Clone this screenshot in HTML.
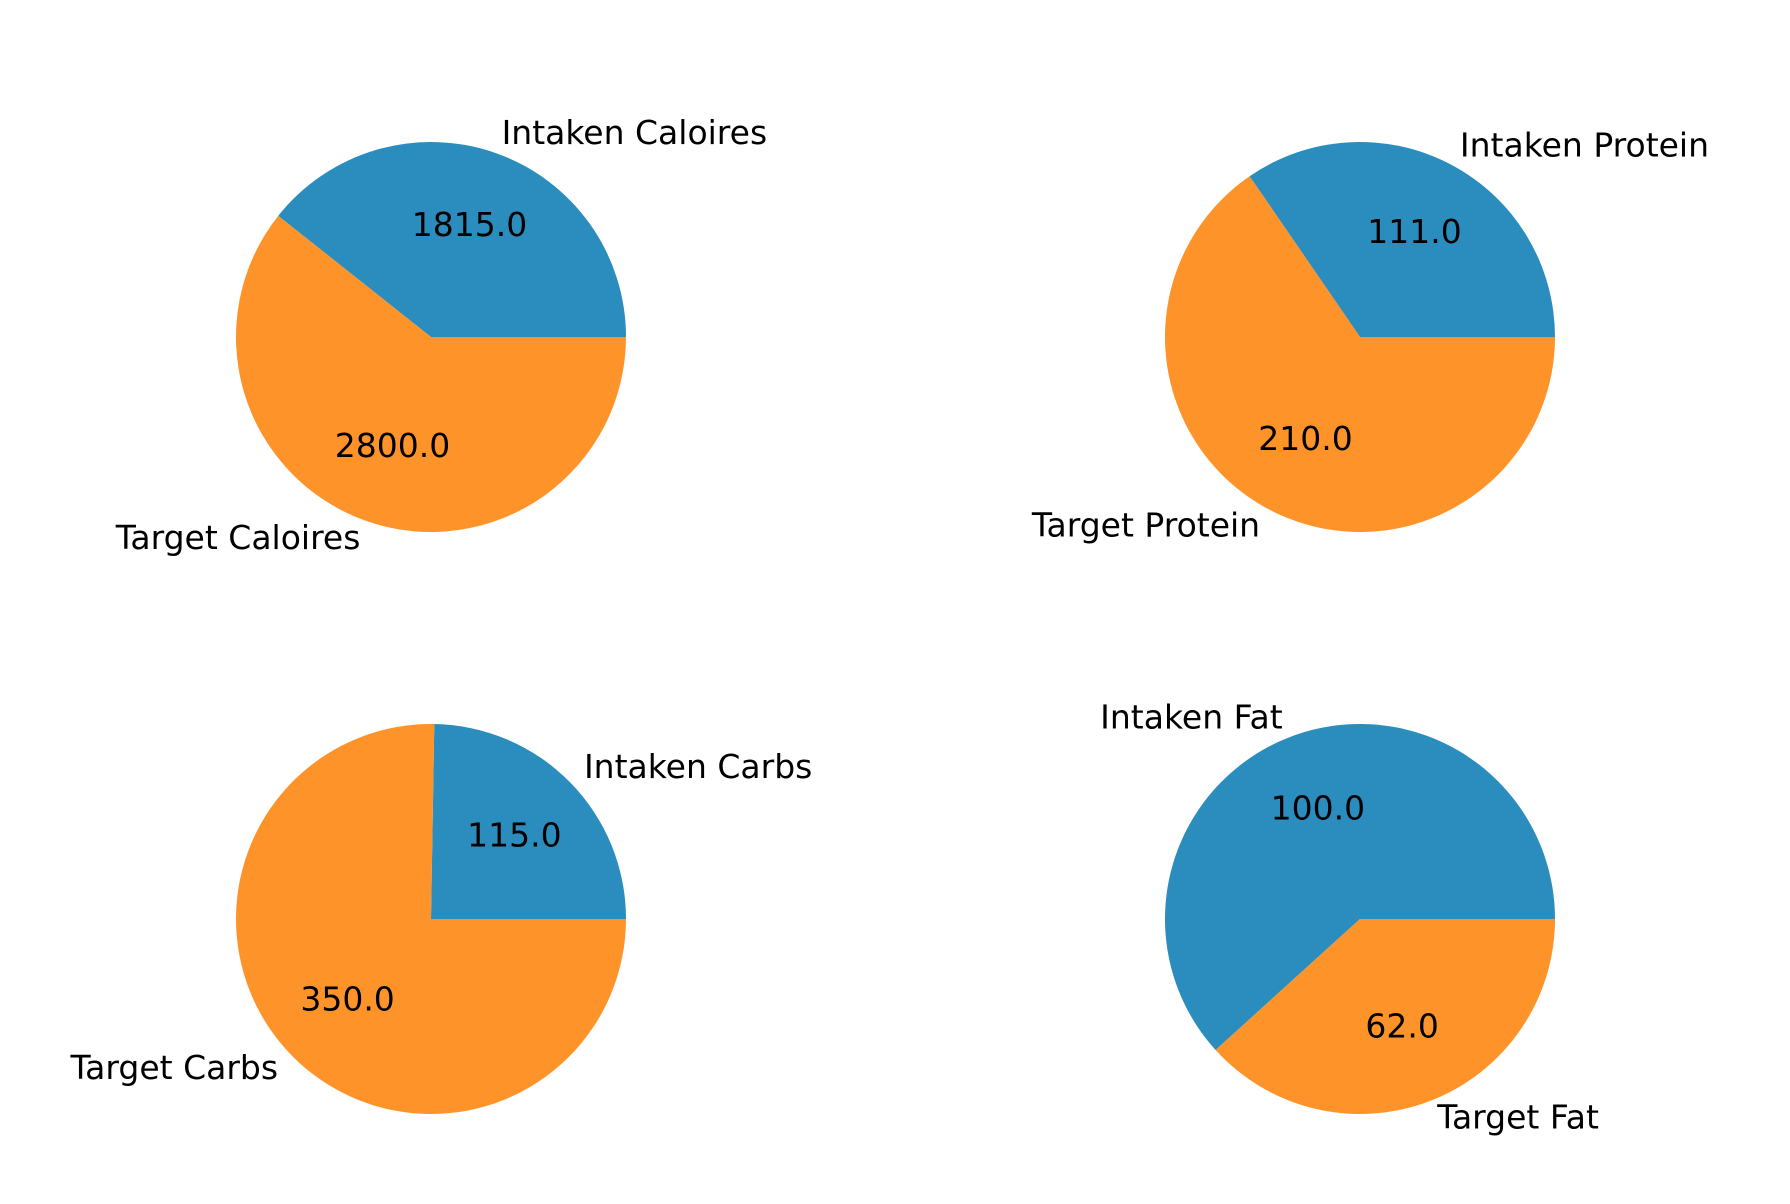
<!DOCTYPE html>
<html><head><meta charset="utf-8"><style>
html,body{margin:0;padding:0;background:#fff;}
svg{display:block;}
text{font-family:"DejaVu Sans","Liberation Sans",sans-serif;font-size:33px;fill:#000;}
</style></head><body>
<svg id="chart" width="1790" height="1204" viewBox="0 0 1790 1204" xmlns="http://www.w3.org/2000/svg"></svg>
<script>
const chartTitles = ["calories","protein","carbs","fat"];
const sliceLabels = [
  ["Intaken Caloires","Target Caloires"],
  ["Intaken Protein","Target Protein"],
  ["Intaken Carbs","Target Carbs"],
  ["Intaken Fat","Target Fat"]
];
const intakenValues = [1815.0, 111.0, 115.0, 100.0];
const targetValues = [2800.0, 210.0, 350.0, 62.0];

const colors = ["#2b8cbe","#fe9429"];
const centers = [[431,337],[1360,337],[431,919],[1360,919]];
const R = 195;
const svg = document.getElementById('chart');
const NS = "http://www.w3.org/2000/svg";

function pt(cx, cy, r, a){ return [cx + r*Math.cos(a), cy - r*Math.sin(a)]; }

for (let i = 0; i < chartTitles.length; i++) {
  const vals = [intakenValues[i], targetValues[i]];
  const total = vals[0] + vals[1];
  const [cx, cy] = centers[i];
  const g = document.createElementNS(NS, 'g');
  
  
  svg.appendChild(g);
  let start = 0;
  for (let j = 0; j < 2; j++) {
    const sweep = vals[j] / total * 2 * Math.PI;
    const end = start + sweep;
    const p0 = pt(cx, cy, R, start), p1 = pt(cx, cy, R, end);
    const large = sweep > Math.PI ? 1 : 0;
    const path = document.createElementNS(NS, 'path');
    path.setAttribute('d', `M${cx},${cy} L${p0[0]},${p0[1]} A${R},${R} 0 ${large} 0 ${p1[0]},${p1[1]} Z`);
    path.setAttribute('fill', colors[j]);
    
    
    g.appendChild(path);
    const mid = start + sweep / 2;
    const lp = pt(cx, cy, R * 1.1, mid);
    const lab = document.createElementNS(NS, 'text');
    lab.setAttribute('x', lp[0]);
    lab.setAttribute('y', lp[1] - 2);
    lab.setAttribute('text-anchor', Math.cos(mid) >= 0 ? 'start' : 'end');
    lab.setAttribute('dominant-baseline', 'central');
    lab.textContent = sliceLabels[i][j];
    
    
    g.appendChild(lab);
    const vp = pt(cx, cy, R * 0.6, mid);
    const vt = document.createElementNS(NS, 'text');
    vt.setAttribute('x', vp[0]);
    vt.setAttribute('y', vp[1] - 2);
    vt.setAttribute('text-anchor', 'middle');
    vt.setAttribute('dominant-baseline', 'central');
    vt.textContent = vals[j].toFixed(1);
    
    
    g.appendChild(vt);
    start = end;
  }
}
</script>
</body></html>
